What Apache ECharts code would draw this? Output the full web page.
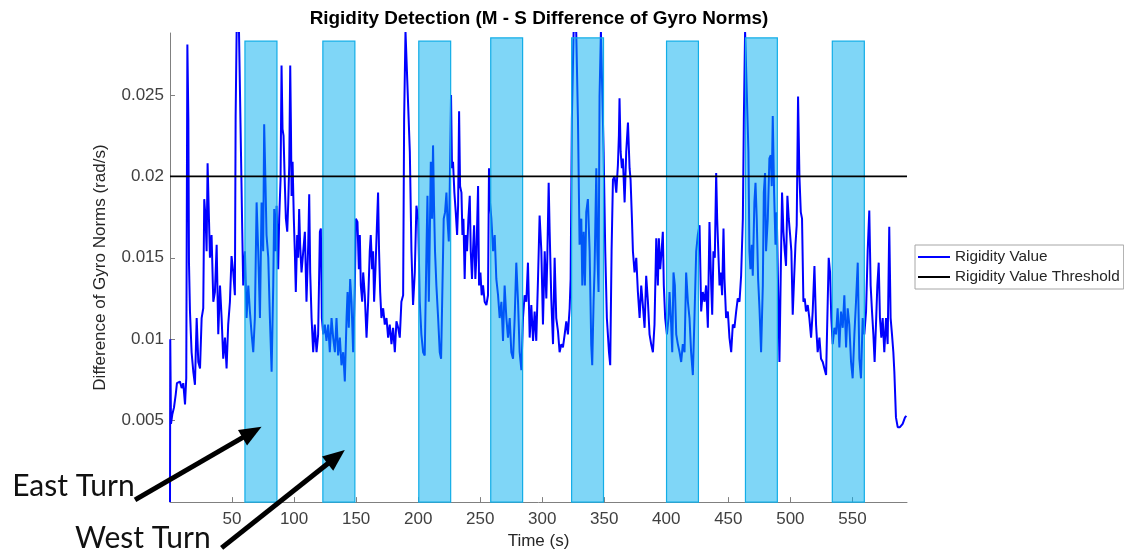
<!DOCTYPE html>
<html>
<head>
<meta charset="utf-8">
<title>Rigidity Detection</title>
<script src="https://cdn.jsdelivr.net/npm/echarts@6/dist/echarts.min.js"></script>
<style>
  html, body { margin: 0; padding: 0; background: #fff; }
  #chart { width: 1124px; height: 555px; }
</style>
</head>
<body>
<div id="chart"></div>
<script>
// ---- Data -------------------------------------------------------------
// Axis extents and tick positions
const timeRange = [0, 594];
const valueRange = [0, 0.0288];
const xTicks = [50, 100, 150, 200, 250, 300, 350, 400, 450, 500, 550];
const yTicks = [0.005, 0.01, 0.015, 0.02, 0.025];

// Rigidity threshold (rad/s)
const threshold = 0.02;

// Turn windows: [start (s), end (s), top (rad/s)]
const turnWindows = [
  [60.4, 86.2, 0.0283],
  [123.2, 149.0, 0.0283],
  [200.5, 226.2, 0.0283],
  [258.5, 284.2, 0.0285],
  [323.7, 349.4, 0.0285],
  [400.2, 425.9, 0.0283],
  [463.8, 489.5, 0.0285],
  [533.8, 559.6, 0.0283]
];

// M - S difference of gyro norms, [time (s), value (rad/s)]
const trace0to190 = [
  [0, 0], [0.2, 0.0100], [0.8, 0.0048], [1.9, 0.0054], [3.2, 0.0058], [4.6, 0.0066], [5.6, 0.0073],
  [6.7, 0.0072], [8.0, 0.0074], [9.4, 0.0070], [10.7, 0.0073], [12.1, 0.0060], [13.1, 0.0076],
  [14.0, 0.0281], [14.8, 0.0235], [15.3, 0.0147], [16.1, 0.0117], [17.4, 0.0092], [18.8, 0.0080],
  [20.1, 0.0072], [21.5, 0.0113], [22.8, 0.0086], [24.2, 0.0082], [25.5, 0.0113], [26.8, 0.0119],
  [27.6, 0.0186], [28.7, 0.0174], [29.5, 0.0154], [30.3, 0.0208], [31.4, 0.0174], [32.2, 0.0150],
  [33.5, 0.0164], [34.9, 0.0123], [36.2, 0.0129], [37.6, 0.0158], [38.9, 0.0103], [40.3, 0.0133],
  [41.6, 0.0113], [42.9, 0.0088], [44.3, 0.0101], [45.6, 0.0082], [46.9, 0.0109], [48.3, 0.0123],
  [49.6, 0.0151], [51.0, 0.0141], [52.3, 0.0127], [52.9, 0.0237], [53.7, 0.0289], [55.6, 0.0289],
  [57.2, 0.0215], [58.2, 0.0168], [59.0, 0.0133], [60.4, 0.0154], [61.7, 0.0113], [63.1, 0.0133],
  [64.4, 0.0117], [65.8, 0.0103], [67.1, 0.0092], [68.4, 0.0113], [69.8, 0.0184], [71.1, 0.0154],
  [72.5, 0.0113], [73.8, 0.0184], [75.1, 0.0154], [75.9, 0.0232], [77.0, 0.0194], [77.8, 0.0164],
  [79.2, 0.0150], [80.5, 0.0113], [81.9, 0.0080], [83.2, 0.0133], [84.0, 0.0180], [85.1, 0.0154],
  [85.9, 0.0182], [87.2, 0.0143], [88.0, 0.0174], [89.1, 0.0198], [89.9, 0.0268], [90.7, 0.0229],
  [91.5, 0.0225], [92.6, 0.0194], [93.4, 0.0174], [94.5, 0.0166], [95.3, 0.0184], [96.1, 0.0207],
  [96.9, 0.0268], [97.4, 0.0235], [98.0, 0.0188], [98.8, 0.0209], [99.8, 0.0174], [100.6, 0.0154],
  [101.4, 0.0129], [102.5, 0.0164], [103.3, 0.0150], [104.1, 0.0180], [104.9, 0.0158], [106.0, 0.0141],
  [107.4, 0.0154], [108.7, 0.0166], [110.0, 0.0123], [111.4, 0.0158], [112.2, 0.0189], [113.0, 0.0141],
  [114.1, 0.0113], [115.4, 0.0092], [116.7, 0.0109], [118.1, 0.0092], [119.4, 0.0103], [120.8, 0.0166],
  [121.6, 0.0168], [122.4, 0.0113], [123.5, 0.0103], [124.8, 0.0109], [126.1, 0.0099], [127.5, 0.0109],
  [128.8, 0.0092], [130.2, 0.0113], [131.5, 0.0101], [132.9, 0.0092], [134.2, 0.0113], [135.5, 0.0090],
  [136.9, 0.0101], [138.2, 0.0084], [139.6, 0.0092], [140.9, 0.0074], [142.3, 0.0113], [143.1, 0.0129],
  [144.1, 0.0107], [145.2, 0.0137], [146.3, 0.0123], [147.6, 0.0092], [149.0, 0.0133], [149.8, 0.0174],
  [151.1, 0.0172], [152.2, 0.0143], [153.0, 0.0164], [153.8, 0.0133], [154.9, 0.0123], [155.7, 0.0141],
  [157.0, 0.0127], [158.4, 0.0101], [159.7, 0.0123], [161.0, 0.0154], [161.8, 0.0164], [162.9, 0.0143],
  [163.7, 0.0154], [164.5, 0.0123], [165.6, 0.0143], [166.7, 0.0168], [167.7, 0.0190], [168.5, 0.0154],
  [169.4, 0.0129], [170.4, 0.0113], [171.8, 0.0119], [173.1, 0.0109], [174.5, 0.0113], [175.8, 0.0101],
  [177.1, 0.0109], [178.5, 0.0097], [179.8, 0.0107], [181.2, 0.0092], [182.5, 0.0111], [183.9, 0.0107],
  [185.2, 0.0101], [186.5, 0.0123], [187.9, 0.0127], [188.7, 0.0235], [189.8, 0.0289], [191.1, 0.0289]
];

const trace190to390 = [
  [193.3, 0.0215], [194.6, 0.0154], [195.9, 0.0121], [197.3, 0.0141], [198.6, 0.0182], [200.0, 0.0174],
  [201.3, 0.0123], [202.6, 0.0103], [204.0, 0.0092], [205.3, 0.0090], [206.7, 0.0154], [207.5, 0.0188],
  [208.6, 0.0123], [209.4, 0.0164], [210.2, 0.0209], [211.2, 0.0174], [212.0, 0.0219], [212.8, 0.0182],
  [213.6, 0.0154], [214.7, 0.0133], [216.1, 0.0113], [217.4, 0.0092], [218.5, 0.0088], [219.6, 0.0133],
  [220.6, 0.0174], [221.7, 0.0178], [222.8, 0.0190], [223.6, 0.0174], [224.7, 0.0160], [225.5, 0.0194],
  [226.5, 0.0250], [227.3, 0.0205], [228.1, 0.0209], [229.2, 0.0190], [230.3, 0.0178], [231.4, 0.0164],
  [232.2, 0.0182], [233.0, 0.0240], [233.8, 0.0194], [234.9, 0.0190], [235.7, 0.0164], [236.5, 0.0174],
  [237.5, 0.0137], [238.3, 0.0164], [239.4, 0.0154], [240.5, 0.0174], [241.6, 0.0188], [242.4, 0.0154],
  [243.4, 0.0137], [244.2, 0.0154], [245.1, 0.0170], [246.1, 0.0137], [246.9, 0.0150], [248.3, 0.0194],
  [249.1, 0.0133], [250.2, 0.0141], [251.2, 0.0127], [252.3, 0.0133], [253.6, 0.0123], [255.0, 0.0121],
  [256.3, 0.0127], [257.1, 0.0205], [257.9, 0.0184], [259.0, 0.0174], [260.4, 0.0154], [261.7, 0.0164],
  [263.0, 0.0137], [264.4, 0.0127], [265.7, 0.0113], [267.1, 0.0123], [268.4, 0.0099], [269.7, 0.0133],
  [271.1, 0.0113], [272.4, 0.0101], [273.8, 0.0113], [275.1, 0.0092], [276.5, 0.0088], [277.8, 0.0113],
  [279.1, 0.0147], [280.5, 0.0123], [281.8, 0.0092], [283.2, 0.0081], [284.5, 0.0113], [285.8, 0.0127],
  [287.2, 0.0123], [288.5, 0.0147], [289.9, 0.0101], [291.2, 0.0121], [292.6, 0.0099], [293.9, 0.0117],
  [295.2, 0.0099], [296.6, 0.0137], [297.9, 0.0176], [299.3, 0.0154], [300.6, 0.0109], [302.0, 0.0154],
  [303.3, 0.0125], [304.1, 0.0150], [305.2, 0.0196], [306.0, 0.0166], [307.3, 0.0125], [308.7, 0.0097],
  [310.0, 0.0150], [311.3, 0.0113], [312.7, 0.0105], [314.0, 0.0092], [315.4, 0.0097], [316.7, 0.0095],
  [318.1, 0.0103], [319.4, 0.0111], [320.7, 0.0103], [322.1, 0.0119], [322.9, 0.0137], [323.9, 0.0235],
  [325.3, 0.0289], [327.4, 0.0289], [328.8, 0.0235], [330.1, 0.0158], [331.5, 0.0174], [332.3, 0.0133],
  [333.4, 0.0166], [334.4, 0.0133], [335.5, 0.0178], [336.8, 0.0186], [338.2, 0.0154], [339.5, 0.0097],
  [340.3, 0.0084], [341.4, 0.0123], [342.2, 0.0143], [343.6, 0.0205], [344.4, 0.0154], [345.4, 0.0129],
  [346.2, 0.0249], [347.3, 0.0289], [348.4, 0.0289], [349.5, 0.0215], [350.8, 0.0154], [352.1, 0.0113],
  [353.8, 0.0092], [354.8, 0.0084], [355.9, 0.0154], [357.0, 0.0198], [358.3, 0.0200], [359.7, 0.0190],
  [361.0, 0.0207], [361.8, 0.0225], [362.3, 0.0248], [363.2, 0.0215], [364.2, 0.0205], [365.0, 0.0211],
  [366.4, 0.0184], [367.7, 0.0215], [369.1, 0.0233], [370.4, 0.0205], [371.2, 0.0198], [372.3, 0.0174],
  [373.1, 0.0154], [374.4, 0.0141], [375.8, 0.0150], [377.1, 0.0129], [378.5, 0.0113], [379.8, 0.0133],
  [381.1, 0.0121], [382.5, 0.0107], [383.8, 0.0139], [385.2, 0.0123], [386.5, 0.0103], [387.8, 0.0097],
  [389.2, 0.0092], [390.5, 0.0109]
];

const trace390toEnd = [
  [391.9, 0.0162], [393.2, 0.0133], [394.0, 0.0162], [395.1, 0.0143], [396.2, 0.0154], [397.2, 0.0166],
  [398.0, 0.0133], [399.1, 0.0113], [400.5, 0.0103], [401.8, 0.0113], [402.6, 0.0129], [403.7, 0.0113],
  [404.8, 0.0092], [405.8, 0.0141], [406.9, 0.0133], [408.0, 0.0103], [409.3, 0.0097], [410.7, 0.0092],
  [412.0, 0.0086], [413.3, 0.0097], [414.7, 0.0092], [416.0, 0.0141], [417.4, 0.0123], [418.7, 0.0113],
  [420.0, 0.0092], [421.4, 0.0078], [422.7, 0.0113], [424.1, 0.0154], [425.4, 0.0164], [426.8, 0.0170],
  [428.1, 0.0117], [429.4, 0.0129], [430.8, 0.0123], [432.1, 0.0133], [433.5, 0.0107], [434.8, 0.0172],
  [436.2, 0.0133], [437.0, 0.0115], [438.0, 0.0154], [439.1, 0.0150], [440.2, 0.0202], [441.0, 0.0174],
  [442.1, 0.0150], [442.9, 0.0133], [443.9, 0.0141], [445.0, 0.0127], [446.1, 0.0168], [446.9, 0.0137],
  [448.2, 0.0113], [449.6, 0.0117], [450.9, 0.0101], [452.3, 0.0092], [453.6, 0.0109], [454.9, 0.0107],
  [456.3, 0.0117], [457.6, 0.0125], [459.0, 0.0123], [460.3, 0.0139], [461.7, 0.0174], [462.5, 0.0235],
  [463.5, 0.0289], [465.1, 0.0289], [466.2, 0.0215], [467.0, 0.0154], [467.8, 0.0143], [468.9, 0.0158],
  [469.7, 0.0139], [471.0, 0.0184], [471.9, 0.0196], [472.9, 0.0174], [474.0, 0.0137], [475.1, 0.0119],
  [476.4, 0.0092], [477.8, 0.0133], [478.6, 0.0190], [479.6, 0.0202], [480.4, 0.0154], [481.8, 0.0174],
  [483.1, 0.0211], [484.2, 0.0213], [485.0, 0.0194], [485.8, 0.0237], [486.9, 0.0190], [488.0, 0.0158],
  [489.0, 0.0178], [490.1, 0.0133], [491.2, 0.0086], [492.3, 0.0143], [493.3, 0.0190], [494.4, 0.0166],
  [495.5, 0.0154], [496.5, 0.0145], [497.6, 0.0188], [498.7, 0.0174], [499.8, 0.0164], [500.8, 0.0154],
  [501.9, 0.0115], [503.0, 0.0137], [504.1, 0.0158], [505.1, 0.0170], [506.2, 0.0249], [507.3, 0.0200],
  [508.4, 0.0178], [509.4, 0.0174], [510.5, 0.0123], [511.6, 0.0125], [512.6, 0.0117], [514.0, 0.0121],
  [515.3, 0.0113], [516.7, 0.0101], [518.0, 0.0117], [519.4, 0.0145], [520.7, 0.0109], [522.0, 0.0092],
  [523.4, 0.0101], [524.7, 0.0088], [526.1, 0.0086], [527.4, 0.0082], [528.8, 0.0078], [530.1, 0.0123],
  [530.9, 0.0150], [532.0, 0.0141], [533.0, 0.0113], [534.1, 0.0097], [535.5, 0.0107], [536.8, 0.0103],
  [538.1, 0.0119], [539.5, 0.0095], [540.8, 0.0117], [542.2, 0.0107], [543.5, 0.0127], [544.9, 0.0095],
  [546.2, 0.0119], [547.5, 0.0109], [548.9, 0.0086], [550.2, 0.0076], [551.6, 0.0103], [552.9, 0.0123],
  [554.3, 0.0147], [555.6, 0.0088], [556.9, 0.0076], [558.3, 0.0113], [559.6, 0.0103], [561.0, 0.0117],
  [562.3, 0.0154], [563.6, 0.0179], [564.7, 0.0133], [565.8, 0.0117], [566.9, 0.0103], [567.9, 0.0086],
  [569.0, 0.0109], [570.1, 0.0133], [571.2, 0.0147], [572.2, 0.0113], [573.3, 0.0101], [574.4, 0.0113],
  [575.7, 0.0092], [577.1, 0.0113], [578.4, 0.0097], [579.7, 0.0169], [580.8, 0.0113], [581.9, 0.0103],
  [583.0, 0.0092], [583.8, 0.0080], [585.1, 0.0052], [586.5, 0.0046], [588.3, 0.0046], [590.5, 0.0048],
  [592.4, 0.0052], [593.5, 0.0053]
];

// Call-outs: label anchor and arrow tail/tip, in [time, value] coordinates
const callouts = [
  { text: 'East Turn', label: [-127.2, 0.00095], tail: [-28.2, 0.00014], tip: [73.8, 0.00463] },
  { text: 'West Turn', label: [-76.5, -0.00225], tail: [41.6, -0.00281], tip: [140.9, 0.0032] }
];

// ---- Chart ------------------------------------------------------------
const FONT = "'Liberation Sans', Arial, Helvetica, sans-serif";
const rigidity = trace0to190.concat(trace190to390, trace390toEnd);
const thresholdLine = [[timeRange[0], threshold], [timeRange[1], threshold]];

const chart = echarts.init(document.getElementById('chart'), null, { renderer: 'canvas' });

const option = {
  animation: false,
  backgroundColor: '#ffffff',
  title: {
    text: 'Rigidity Detection (M - S Difference of Gyro Norms)',
    left: 539,
    top: 9,
    padding: 0,
    textAlign: 'center',
    textStyle: { fontFamily: FONT, fontSize: 18.9, fontWeight: 'bold', color: '#000000' }
  },
  legend: {
    data: [
      { name: 'Rigidity Value', icon: 'rect' },
      { name: 'Rigidity Value Threshold', icon: 'rect' }
    ],
    orient: 'vertical',
    left: 915,
    top: 245,
    padding: [4, 4, 4, 3],
    itemGap: 4,
    itemWidth: 32,
    itemHeight: 2,
    itemStyle: { borderWidth: 0 },
    borderColor: '#a6a6a6',
    borderWidth: 1,
    backgroundColor: '#ffffff',
    textStyle: { fontFamily: FONT, fontSize: 15.3, lineHeight: 16, color: '#262626' }
  },
  grid: { left: 170, right: 217, top: 33, bottom: 51, containLabel: false },
  xAxis: {
    type: 'value',
    min: timeRange[0],
    max: timeRange[1],
    interval: 50,
    name: 'Time (s)',
    nameLocation: 'middle',
    nameGap: 28,
    nameTextStyle: { fontFamily: FONT, fontSize: 17, color: '#262626' },
    axisLine: { show: true, onZero: false, lineStyle: { color: '#808080', width: 1 } },
    axisTick: { show: true, inside: true, length: 5, customValues: xTicks, lineStyle: { color: '#808080' } },
    axisLabel: { customValues: xTicks, margin: 9, fontFamily: FONT, fontSize: 17, color: '#404040' },
    splitLine: { show: false }
  },
  yAxis: {
    type: 'value',
    min: valueRange[0],
    max: valueRange[1],
    interval: 0.005,
    name: 'Difference of Gyro Norms (rad/s)',
    nameLocation: 'middle',
    nameGap: 61,
    nameTextStyle: { fontFamily: FONT, fontSize: 17, color: '#262626' },
    axisLine: { show: true, onZero: false, lineStyle: { color: '#808080', width: 1 } },
    axisTick: { show: true, inside: true, length: 5, customValues: yTicks, lineStyle: { color: '#808080' } },
    axisLabel: {
      customValues: yTicks,
      margin: 6,
      fontFamily: FONT,
      fontSize: 17,
      color: '#404040',
      formatter: v => String(+v.toFixed(3))
    },
    splitLine: { show: false }
  },
  series: [
    {
      name: 'Rigidity Value',
      type: 'line',
      data: rigidity,
      showSymbol: false,
      symbol: 'none',
      z: 2,
      lineStyle: { color: '#0000ff', width: 2 },
      itemStyle: { color: '#0000ff' }
    },
    {
      name: 'Turn windows',
      type: 'custom',
      data: turnWindows,
      z: 4,
      clip: false,
      silent: true,
      renderItem: (params, api) => {
        const p0 = api.coord([api.value(0), api.value(2)]);
        const p1 = api.coord([api.value(1), 0]);
        return {
          type: 'rect',
          shape: { x: p0[0], y: p0[1], width: p1[0] - p0[0], height: p1[1] - p0[1] },
          style: { fill: 'rgba(0,174,239,0.5)', stroke: '#12ade7', lineWidth: 1.2 }
        };
      }
    },
    {
      name: 'Rigidity Value Threshold',
      type: 'line',
      data: thresholdLine,
      showSymbol: false,
      symbol: 'none',
      z: 5,
      lineStyle: { color: '#000000', width: 1.6 },
      itemStyle: { color: '#000000' }
    }
  ]
};

chart.setOption(option);

// Call-out labels and arrows, placed through the axes
const toPx = p => chart.convertToPixel({ gridIndex: 0 }, p);
const graphics = [];
callouts.forEach(c => {
  const lp = toPx(c.label);
  const a = toPx(c.tail);
  const b = toPx(c.tip);
  const dx = b[0] - a[0], dy = b[1] - a[1];
  const len = Math.sqrt(dx * dx + dy * dy);
  const ux = dx / len, uy = dy / len;
  const headLen = 22, headHalf = 9;
  const base = [b[0] - ux * headLen, b[1] - uy * headLen];
  graphics.push({
    type: 'text',
    z: 100,
    style: { text: c.text, x: lp[0], y: lp[1], fill: '#111111', font: "30px Lato, 'Open Sans', sans-serif", verticalAlign: 'middle', align: 'left' }
  });
  graphics.push({
    type: 'line',
    z: 100,
    shape: { x1: a[0], y1: a[1], x2: base[0] + ux * 2, y2: base[1] + uy * 2 },
    style: { stroke: '#000000', lineWidth: 5 }
  });
  graphics.push({
    type: 'polygon',
    z: 100,
    shape: {
      points: [
        [b[0], b[1]],
        [base[0] - uy * headHalf, base[1] + ux * headHalf],
        [base[0] + uy * headHalf, base[1] - ux * headHalf]
      ]
    },
    style: { fill: '#000000' }
  });
});
chart.setOption({ graphic: graphics });
</script>
</body>
</html>
